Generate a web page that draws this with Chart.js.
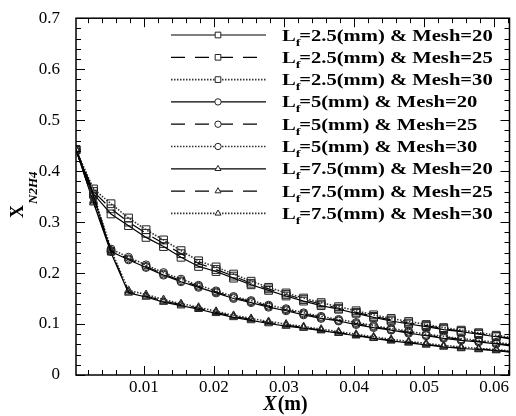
<!DOCTYPE html>
<html>
<head>
<meta charset="utf-8">
<script src="https://cdn.jsdelivr.net/npm/chart.js@4.4.0/dist/chart.umd.min.js"></script>
<style>
  html, body { margin: 0; padding: 0; background: #fff; }
  #wrap { width: 516px; height: 416px; }
</style>
</head>
<body>
<div id="wrap"><canvas id="myChart" width="516" height="416"></canvas></div>
<script>
// axial positions of the markers (m); the last one only carries the line to the frame
const xPos = [0.0003, 0.0028, 0.0053, 0.0078, 0.0103, 0.0128, 0.0153, 0.0178, 0.0203,
  0.0228, 0.0253, 0.0278, 0.0303, 0.0328, 0.0353, 0.0378, 0.0403, 0.0428, 0.0453,
  0.0478, 0.0503, 0.0528, 0.0553, 0.0578, 0.0603, 0.0628];

// Lf = 2.5 mm
const lf25m20 = [0.442, 0.355, 0.316, 0.293, 0.270, 0.252, 0.231, 0.213, 0.203, 0.190, 0.177, 0.166, 0.155,
  0.145, 0.136, 0.129, 0.121, 0.113, 0.106, 0.100, 0.095, 0.089, 0.085, 0.080, 0.075, 0.070];
const lf25m25 = [0.442, 0.360, 0.326, 0.300, 0.278, 0.258, 0.238, 0.219, 0.207, 0.194, 0.180, 0.169, 0.158,
  0.148, 0.139, 0.131, 0.123, 0.115, 0.108, 0.102, 0.097, 0.091, 0.086, 0.081, 0.076, 0.071];
const lf25m30 = [0.442, 0.365, 0.336, 0.308, 0.285, 0.265, 0.244, 0.224, 0.212, 0.198, 0.184, 0.172, 0.161,
  0.151, 0.142, 0.134, 0.126, 0.118, 0.111, 0.105, 0.099, 0.093, 0.088, 0.083, 0.078, 0.073];
// Lf = 5 mm
const lf5m20 = [0.442, 0.350, 0.242, 0.226, 0.211, 0.196, 0.183, 0.172, 0.161, 0.150, 0.142, 0.133, 0.126,
  0.118, 0.111, 0.106, 0.099, 0.093, 0.088, 0.082, 0.077, 0.072, 0.068, 0.065, 0.061, 0.056];
const lf5m25 = [0.442, 0.352, 0.244, 0.228, 0.213, 0.198, 0.185, 0.174, 0.163, 0.152, 0.144, 0.135, 0.128,
  0.120, 0.113, 0.107, 0.101, 0.095, 0.089, 0.084, 0.078, 0.074, 0.070, 0.066, 0.062, 0.058];
const lf5m30 = [0.442, 0.355, 0.247, 0.231, 0.216, 0.201, 0.188, 0.176, 0.165, 0.154, 0.146, 0.137, 0.130,
  0.122, 0.115, 0.109, 0.103, 0.097, 0.091, 0.086, 0.080, 0.076, 0.071, 0.068, 0.064, 0.060];
// Lf = 7.5 mm
const lf75m20 = [0.442, 0.338, 0.240, 0.161, 0.153, 0.143, 0.136, 0.129, 0.121, 0.113, 0.107, 0.101, 0.096,
  0.092, 0.087, 0.082, 0.077, 0.072, 0.067, 0.063, 0.059, 0.055, 0.052, 0.050, 0.048, 0.044];
const lf75m25 = [0.442, 0.340, 0.242, 0.163, 0.155, 0.145, 0.138, 0.131, 0.123, 0.115, 0.109, 0.103, 0.098,
  0.093, 0.088, 0.083, 0.078, 0.073, 0.068, 0.064, 0.060, 0.056, 0.053, 0.051, 0.049, 0.045];
const lf75m30 = [0.442, 0.343, 0.245, 0.166, 0.158, 0.148, 0.140, 0.133, 0.125, 0.117, 0.111, 0.105, 0.100,
  0.095, 0.090, 0.085, 0.080, 0.075, 0.070, 0.066, 0.062, 0.058, 0.055, 0.052, 0.050, 0.046];

const lfLabels = ['2.5', '5', '7.5'];
const meshLabels = ['20', '25', '30'];
const xTickValues = [0.01, 0.02, 0.03, 0.04, 0.05, 0.06];
const yTickValues = [0, 0.1, 0.2, 0.3, 0.4, 0.5, 0.6, 0.7];

const SERIF = "'Liberation Serif', 'Times New Roman', serif";
const groups = [
  { lf: lfLabels[0], style: 'rect', r: 5.5, legR: 4, series: [lf25m20, lf25m25, lf25m30] },
  { lf: lfLabels[1], style: 'circle', r: 4, legR: 3.2, series: [lf5m20, lf5m25, lf5m30] },
  { lf: lfLabels[2], style: 'triangle', r: 4.5, legR: 3.4, series: [lf75m20, lf75m25, lf75m30] }
];
const lineStyles = [
  { dash: [], width: 1.2, color: '#000' },
  { dash: [14, 10], width: 1.2, color: '#000' },
  { dash: [1.5, 1.5], width: 1.6, color: '#333' }
];

const datasets = [];
groups.forEach(g => {
  g.series.forEach((vals, m) => {
    const ls = lineStyles[m];
    datasets.push({
      label: 'Lf=' + g.lf + '(mm) & Mesh=' + meshLabels[m],
      data: xPos.map((x, i) => ({ x: x, y: vals[i] })),
      borderColor: ls.color,
      borderWidth: ls.width,
      borderDash: ls.dash,
      pointStyle: g.style,
      pointRadius: c => (c.dataIndex === xPos.length - 1 ? 0 : g.r),
      pointBorderColor: '#222',
      pointBackgroundColor: 'rgba(0,0,0,0)',
      pointBorderWidth: 1,
      tension: 0,
      _group: g,
      _line: ls
    });
  });
});

// frame, inward ticks, legend and axis titles
const decorations = {
  id: 'decorations',
  afterDatasetsDraw(chart) {
    const ctx = chart.ctx;
    const a = chart.chartArea;
    const xs = chart.scales.x, ys = chart.scales.y;
    ctx.save();
    ctx.strokeStyle = '#000';
    ctx.lineWidth = 1.5;
    ctx.strokeRect(a.left, a.top, a.right - a.left, a.bottom - a.top);

    ctx.lineWidth = 1;
    ctx.beginPath();
    for (let i = 0; i <= 35; i++) {
      const v = i * 0.02;
      const y = Math.round(ys.getPixelForValue(v)) + 0.5;
      const len = (i % 5 === 0) ? 9 : 5;
      ctx.moveTo(a.left, y); ctx.lineTo(a.left + len, y);
      ctx.moveTo(a.right, y); ctx.lineTo(a.right - len, y);
    }
    for (let i = 1; i <= 31; i++) {
      const v = i * 0.002;
      if (v > xs.max) break;
      const x = Math.round(xs.getPixelForValue(v)) + 0.5;
      const len = (i % 5 === 0) ? 9 : 5;
      ctx.moveTo(x, a.bottom); ctx.lineTo(x, a.bottom - len);
      ctx.moveTo(x, a.top); ctx.lineTo(x, a.top + len);
    }
    ctx.stroke();

    // legend
    const lineX0 = 171, lineX1 = 266, markX = 218, textX = 282;
    ctx.font = 'bold 16px ' + SERIF;
    const subFont = 'bold 11px ' + SERIF;
    const firstRest = '=' + lfLabels[0] + '(mm) & Mesh=' + meshLabels[0];
    const wL = ctx.measureText('L').width;
    let wRest = ctx.measureText(firstRest).width;
    ctx.font = subFont;
    const wSub = ctx.measureText('f').width;
    const sx = 212 / (wL + wSub + wRest);
    chart.data.datasets.forEach((ds, i) => {
      const y = 35 + 22.3 * i;
      const ls = ds._line, g = ds._group;
      ctx.strokeStyle = ls.color;
      ctx.lineWidth = ls.width;
      ctx.setLineDash(ls.dash);
      ctx.beginPath();
      ctx.moveTo(lineX0, y); ctx.lineTo(lineX1, y);
      ctx.stroke();
      ctx.setLineDash([]);
      ctx.strokeStyle = '#222';
      ctx.fillStyle = '#fff';
      ctx.lineWidth = 1;
      Chart.helpers.drawPoint(ctx, { pointStyle: g.style, radius: g.legR, borderWidth: 1, rotation: 0 }, markX, y);

      ctx.save();
      ctx.translate(textX, y + 5.5);
      ctx.scale(sx, 1);
      ctx.fillStyle = '#000';
      ctx.textBaseline = 'alphabetic';
      ctx.font = 'bold 16px ' + SERIF;
      ctx.fillText('L', 0, 0);
      ctx.font = subFont;
      ctx.fillText('f', wL, 5);
      ctx.font = 'bold 16px ' + SERIF;
      ctx.fillText('=' + g.lf + '(mm) & Mesh=' + meshLabels[i % 3], wL + wSub - 1, 0);
      ctx.restore();
    });

    // x title
    ctx.fillStyle = '#000';
    ctx.textBaseline = 'alphabetic';
    ctx.font = 'italic bold 20px ' + SERIF;
    const wX = ctx.measureText('X').width;
    ctx.font = 'bold 20px ' + SERIF;
    const wM = ctx.measureText('(m)').width;
    const tx = 285 - (wX + wM) / 2;
    ctx.font = 'italic bold 20px ' + SERIF;
    ctx.fillText('X', tx, 410);
    ctx.font = 'bold 20px ' + SERIF;
    ctx.fillText('(m)', tx + wX + 1, 410);

    // y title
    ctx.save();
    ctx.translate(23, 218);
    ctx.rotate(-Math.PI / 2);
    ctx.font = 'bold 18px ' + SERIF;
    ctx.fillText('X', 0, 0);
    const wY = ctx.measureText('X').width;
    ctx.font = 'italic bold 13px ' + SERIF;
    ctx.fillText('N2H4', wY + 1, 14);
    ctx.restore();

    ctx.restore();
  }
};

new Chart(document.getElementById('myChart').getContext('2d'), {
  type: 'line',
  data: { datasets: datasets },
  options: {
    responsive: false,
    animation: false,
    layout: { padding: { left: 0, right: 3, top: 17, bottom: 0 } },
    plugins: { legend: { display: false }, tooltip: { enabled: false } },
    scales: {
      x: {
        type: 'linear',
        min: 0.0003,
        max: 0.0622,
        afterFit: s => { s.height = 41; },
        afterBuildTicks: s => { s.ticks = xTickValues.map(v => ({ value: v })); },
        grid: { display: false },
        border: { display: false },
        ticks: {
          color: '#000',
          padding: -6,
          maxRotation: 0,
          autoSkip: false,
          font: { family: SERIF, size: 17 },
          callback: v => v.toFixed(2)
        }
      },
      y: {
        type: 'linear',
        min: 0,
        max: 0.7,
        afterFit: s => { s.width = 76; },
        afterBuildTicks: s => { s.ticks = yTickValues.map(v => ({ value: v })); },
        grid: { display: false },
        border: { display: false },
        ticks: {
          color: '#000',
          padding: 8,
          autoSkip: false,
          font: { family: SERIF, size: 17 },
          callback: v => (v === 0 ? '0' : v.toFixed(1))
        }
      }
    }
  },
  plugins: [decorations]
});
</script>
</body>
</html>
